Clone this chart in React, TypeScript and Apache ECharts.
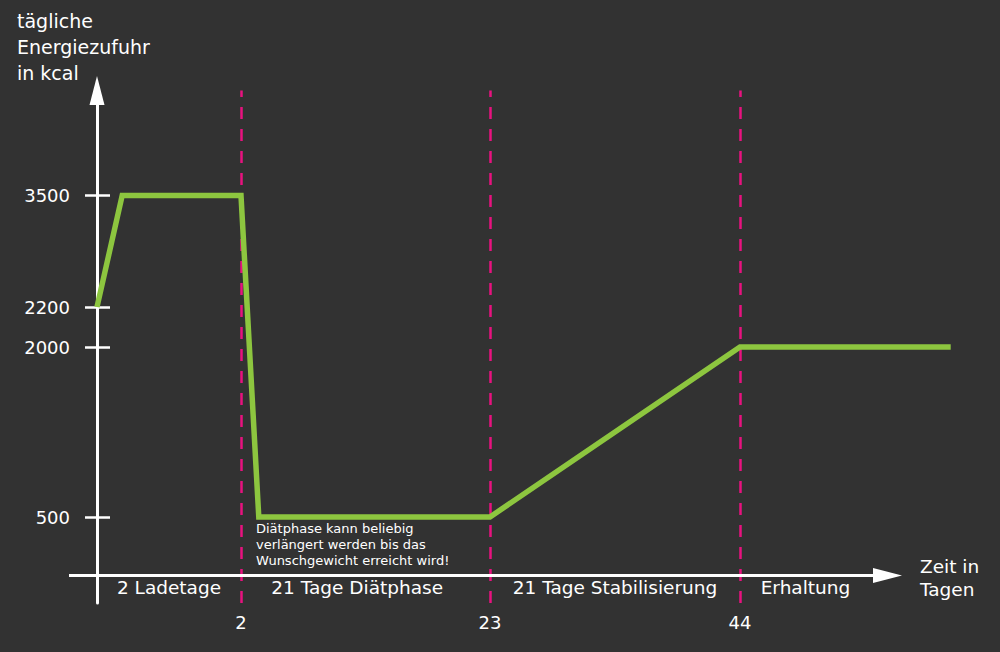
import React, { useEffect, useRef } from "react";
import * as echarts from "echarts";

// ---- data ----
const dayValues = [0, 0.35, 2, 3.5, 23, 44, 61.7];
const kcalValues = [2200, 3500, 3500, 500, 500, 2000, 2000];
const yTicks = [500, 2000, 2200, 3500];
const xTicks = [2, 23, 44];
const phaseNames = ["2 Ladetage", "21 Tage Diätphase", "21 Tage Stabilisierung", "Erhaltung"];
const phaseCenters = [1, 11.8, 33.5, 49.5];
const yAxisName = "tägliche\nEnergiezufuhr\nin kcal";
const xAxisName = "Zeit in\nTagen";
const note = "Diätphase kann beliebig\nverlängert werden bis das\nWunschgewicht erreicht wird!";

// ---- schematic (piecewise-linear) scales ----
const xKnots = [0, 2, 23, 44];
const xKnotPos = [0, 144, 393, 643];
const yKnots = [0, 500, 2000, 2200, 3500];
const yKnotPos = [0, 58.5, 228.5, 268.5, 380];

function piecewise(v: number, from: number[], to: number[]) {
  let i = 0;
  while (i < from.length - 2 && v > from[i + 1]) i++;
  const t = (v - from[i]) / (from[i + 1] - from[i]);
  return to[i] + t * (to[i + 1] - to[i]);
}
const xs = (d: number) => piecewise(d, xKnots, xKnotPos);
const ys = (k: number) => piecewise(k, yKnots, yKnotPos);
const xInv = (p: number) => piecewise(p, xKnotPos, xKnots);
const yInv = (p: number) => piecewise(p, yKnotPos, yKnots);

const BG = "#323232";
const GREEN = "#8dc63f";
const PINK = "#e8127f";
const WHITE = "#ffffff";
const FONT = "DejaVu Sans";

const X_MIN = -28;
const X_MAX = 863;
const X_ARROW_END = 790.5;

export default function App() {
  const ref = useRef<HTMLDivElement>(null);
  useEffect(() => {
    document.body.style.margin = "0";
    const chart = echarts.init(ref.current!, null, { renderer: "svg" });
    const lineData = dayValues.map((d, i) => [xs(d), ys(kcalValues[i])]);
    const phasePos = phaseCenters.map((d) => xs(d));
    const option = {
      animation: false,
      backgroundColor: BG,
      textStyle: { fontFamily: FONT },
      grid: {
        left: 69,
        right: 40,
        top: 90.5,
        bottom: 49,
        containLabel: false,
        outerBoundsMode: "none",
      },
      xAxis: [
        {
          type: "value",
          min: X_MIN,
          max: X_MAX,
          position: "bottom",
          splitLine: { show: false },
          axisLine: { show: false, onZero: true },
          axisTick: { show: false },
          axisLabel: {
            customValues: xTicks.map(xs),
            formatter: (v: number) => String(Math.round(xInv(v))),
            color: WHITE,
            fontSize: 18,
            fontFamily: FONT,
            margin: 10,
          },
        },
        {
          type: "value",
          min: X_MIN,
          max: X_MAX,
          position: "bottom",
          splitLine: { show: false },
          axisLine: { show: false, onZero: true },
          axisTick: { show: false },
          axisLabel: {
            customValues: phasePos,
            formatter: (v: number) => {
              let best = 0;
              phasePos.forEach((p, i) => {
                if (Math.abs(p - v) < Math.abs(phasePos[best] - v)) best = i;
              });
              return phaseNames[best];
            },
            color: WHITE,
            fontSize: 18.5,
            fontFamily: FONT,
            margin: -25,
          },
        },
      ],
      yAxis: [
        {
          type: "value",
          min: -27.5,
          max: 485,
          position: "left",
          splitLine: { show: false },
          axisLine: {
            show: true,
            onZero: true,
            symbol: ["none", "triangle"],
            symbolSize: [15, 29],
            lineStyle: { color: WHITE, width: 3 },
          },
          axisTick: {
            show: true,
            customValues: yTicks.map(ys),
            length: 12,
            lineStyle: { color: WHITE, width: 2.5 },
          },
          axisLabel: {
            customValues: yTicks.map(ys),
            formatter: (v: number) => String(Math.round(yInv(v))),
            color: WHITE,
            fontSize: 18,
            fontFamily: FONT,
            margin: -1,
          },
        },
        {
          type: "value",
          min: -27.5,
          max: 485,
          position: "left",
          splitLine: { show: false },
          axisLine: { show: false, onZero: true },
          axisTick: {
            show: true,
            inside: true,
            customValues: yTicks.map(ys),
            length: 13,
            lineStyle: { color: WHITE, width: 2.5 },
          },
          axisLabel: { show: false },
        },
      ],
      series: [
        {
          type: "line",
          data: lineData,
          symbol: "none",
          lineStyle: { color: GREEN, width: 5.5, cap: "butt", join: "miter" },
          z: 3,
          markLine: {
            silent: true,
            symbol: "none",
            label: { show: false },
            lineStyle: { color: PINK, width: 2.5, type: [12, 10] },
            data: xTicks.map((d) => ({ xAxis: xs(d) })),
            z: 2,
          },
        },
        {
          type: "line",
          data: [],
          symbol: "none",
          z: 4,
          markLine: {
            silent: true,
            animation: false,
            label: { show: false },
            lineStyle: { color: WHITE, width: 3, type: "solid" },
            data: [
              [
                { coord: [X_MIN, 0], symbol: "none" },
                { coord: [X_ARROW_END, 0], symbol: "triangle", symbolSize: [15, 29] },
              ],
            ],
          },
        },
      ],
      graphic: [
        {
          type: "text",
          left: 17,
          top: 8,
          style: { text: yAxisName, fill: WHITE, font: `19px "${FONT}"`, lineHeight: 26 },
        },
        {
          type: "text",
          left: 920,
          top: 555,
          style: { text: xAxisName, fill: WHITE, font: `18.5px "${FONT}"`, lineHeight: 23 },
        },
        {
          type: "text",
          left: 256,
          top: 520,
          style: { text: note, fill: WHITE, font: `13px "${FONT}"`, lineHeight: 16 },
        },
      ],
    };
    chart.setOption(option as any);
    return () => chart.dispose();
  }, []);
  return (
    <div
      ref={ref}
      style={{ position: "fixed", left: 0, top: 0, width: 1000, height: 652 }}
    />
  );
}
